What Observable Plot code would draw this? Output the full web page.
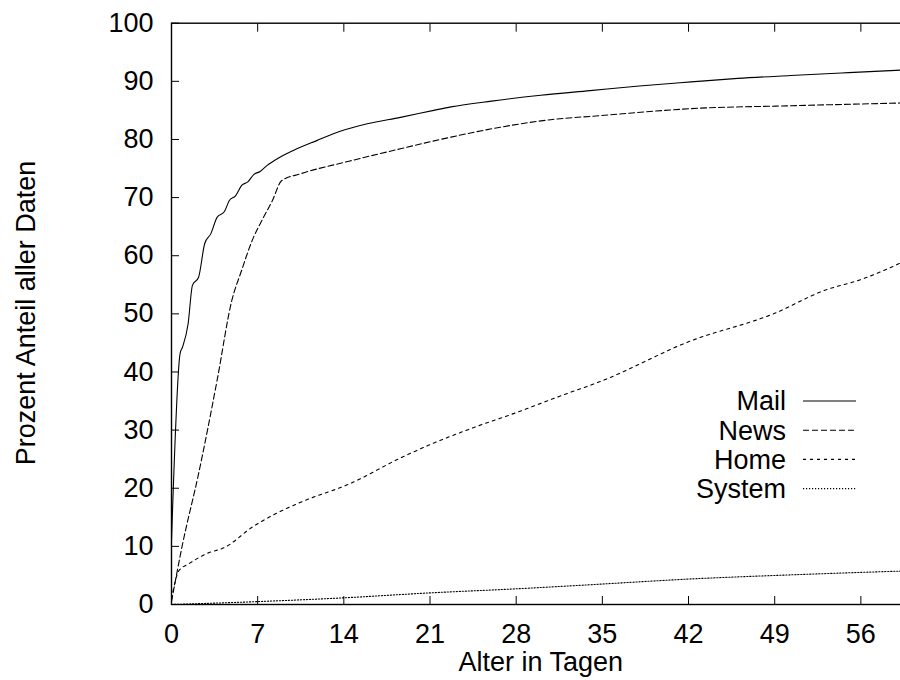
<!DOCTYPE html>
<html>
<head>
<meta charset="utf-8">
<script src="https://cdn.jsdelivr.net/npm/d3@7"></script>
<script src="https://cdn.jsdelivr.net/npm/@observablehq/plot@0.6"></script>
<style>
  html, body { margin: 0; padding: 0; background: white; overflow: hidden; }
  #chart { width: 900px; height: 680px; overflow: hidden; }
  #chart svg { max-width: none !important; }
</style>
</head>
<body>
<div id="chart"></div>
<script>
// ---- data ----
const xTicks = [0, 7, 14, 21, 28, 35, 42, 49, 56];
const yTicks = [0, 10, 20, 30, 40, 50, 60, 70, 80, 90, 100];
const xLabel = "Alter in Tagen";
const yLabel = "Prozent Anteil aller Daten";
const seriesNames = ["Mail", "News", "Home", "System"];

const mailDays = [0, 0.7, 0.9, 1.35, 1.7, 2.2, 2.7, 3.2, 3.7, 4.3, 4.7, 5.2, 5.7, 6.2, 6.7, 7.2, 7.75, 8.7, 9.9, 11.8, 13.7, 15.9, 18.6, 21.3, 22.7, 26, 30, 34, 38, 42.2, 46, 50.3, 55, 60];
const mailPct  = [11, 43.2, 44.3, 48.3, 54.9, 56.3, 62.1, 63.8, 66.6, 67.6, 69.5, 70.3, 72.1, 72.7, 74.0, 74.5, 75.5, 76.8, 78.1, 79.8, 81.4, 82.7, 83.8, 85.0, 85.6, 86.6, 87.6, 88.4, 89.2, 89.9, 90.5, 91.0, 91.5, 92.0];

const newsDays = [0, 0.85, 2.2, 3.7, 4.9, 5.7, 6.55, 7.4, 8.2, 8.94, 10.5, 14.5, 18.6, 22.7, 26.7, 30.8, 34.85, 42.2, 50.3, 60];
const newsPct  = [0.5, 9.9, 22.5, 38.5, 52.3, 57.5, 62.6, 66.3, 69.5, 72.9, 74.1, 76.3, 78.4, 80.4, 82.1, 83.4, 84.1, 85.3, 85.8, 86.3];

const homeDays = [0, 0.6, 1.4, 2.8, 4.4, 6.55, 8.45, 10.5, 14.5, 18.6, 21, 24.5, 28, 31.5, 35, 42, 49, 53, 56, 60];
const homePct  = [1, 5.8, 7.0, 8.7, 9.9, 13.3, 15.6, 17.6, 20.8, 25.2, 27.5, 30.4, 33.0, 35.8, 38.5, 45.2, 50.1, 54.0, 55.9, 59.5];

const sysDays = [0, 7, 14, 21, 28, 34, 42.2, 50.3, 60];
const sysPct  = [0, 0.5, 1.15, 2.0, 2.7, 3.4, 4.4, 5.1, 5.8];

const dashes = {Mail: null, News: "6,3", Home: "3,4", System: "1.2,1.8"};

// ---- build tables ----
const toRows = (days, pct) => days.map((d, i) => ({day: d, pct: pct[i]}));
const series = {
  Mail: toRows(mailDays, mailPct),
  News: toRows(newsDays, newsPct),
  Home: toRows(homeDays, homePct),
  System: toRows(sysDays, sysPct)
};

const FONT = "'Liberation Sans', Arial, Helvetica, sans-serif";
const FS = 27;

const lineMarks = seriesNames.map(name =>
  Plot.line(series[name], {
    x: "day", y: "pct", stroke: "black", strokeWidth: 1.1,
    strokeDasharray: dashes[name], curve: "monotone-x"
  })
);

const chart = Plot.plot({
  width: 915,
  height: 680,
  marginLeft: 171,
  marginRight: 5.4,
  marginTop: 22.7,
  marginBottom: 76,
  style: {fontFamily: FONT, fontSize: FS + "px", background: "white", color: "black"},
  x: {domain: [0, 60]},
  y: {domain: [0, 100]},
  marks: [
    ...lineMarks,
    Plot.frame({stroke: "black", strokeWidth: 1.4}),
    Plot.axisX(xTicks, {anchor: "bottom", tickSize: 0, tickPadding: 19, label: null, fontSize: FS}),
    Plot.axisX(xTicks, {anchor: "bottom", tickSize: -8, tickFormat: () => "", label: null}),
    Plot.axisX(xTicks, {anchor: "top", tickSize: -8, tickFormat: () => "", label: null}),
    Plot.axisY(yTicks, {anchor: "left", tickSize: 0, tickPadding: 18, label: null, fontSize: FS}),
    Plot.axisY(yTicks, {anchor: "left", tickSize: -8, tickFormat: () => "", label: null}),
    Plot.axisY(yTicks, {anchor: "right", tickSize: -8, tickFormat: () => "", label: null}),
    Plot.text([xLabel], {frameAnchor: "bottom", dy: 58, lineAnchor: "middle", fontSize: FS, text: d => d})
  ]
});
chart.style.maxWidth = "none";
chart.style.width = "915px";
chart.style.height = "680px";

document.getElementById("chart").appendChild(chart);

const svg = d3.select(chart);

// ---- y axis title ----
svg.append("text")
  .attr("transform", "translate(26,313) rotate(-90)")
  .attr("text-anchor", "middle").attr("dy", "0.35em")
  .attr("font-family", FONT).attr("font-size", FS).attr("fill", "black")
  .text(yLabel);

// ---- legend (gnuplot style, inside plot) ----
const legend = svg.append("g").attr("font-family", FONT).attr("font-size", FS);
const legendY0 = 401, legendStep = 29.2;
seriesNames.forEach((name, i) => {
  const y = legendY0 + i * legendStep;
  legend.append("text")
    .attr("x", 786).attr("y", y).attr("dy", "0.35em")
    .attr("text-anchor", "end").attr("fill", "black").text(name);
  legend.append("line")
    .attr("x1", 803).attr("x2", 856).attr("y1", y).attr("y2", y)
    .attr("stroke", "black").attr("stroke-width", 1.1)
    .attr("stroke-dasharray", dashes[name]);
});
</script>
</body>
</html>
